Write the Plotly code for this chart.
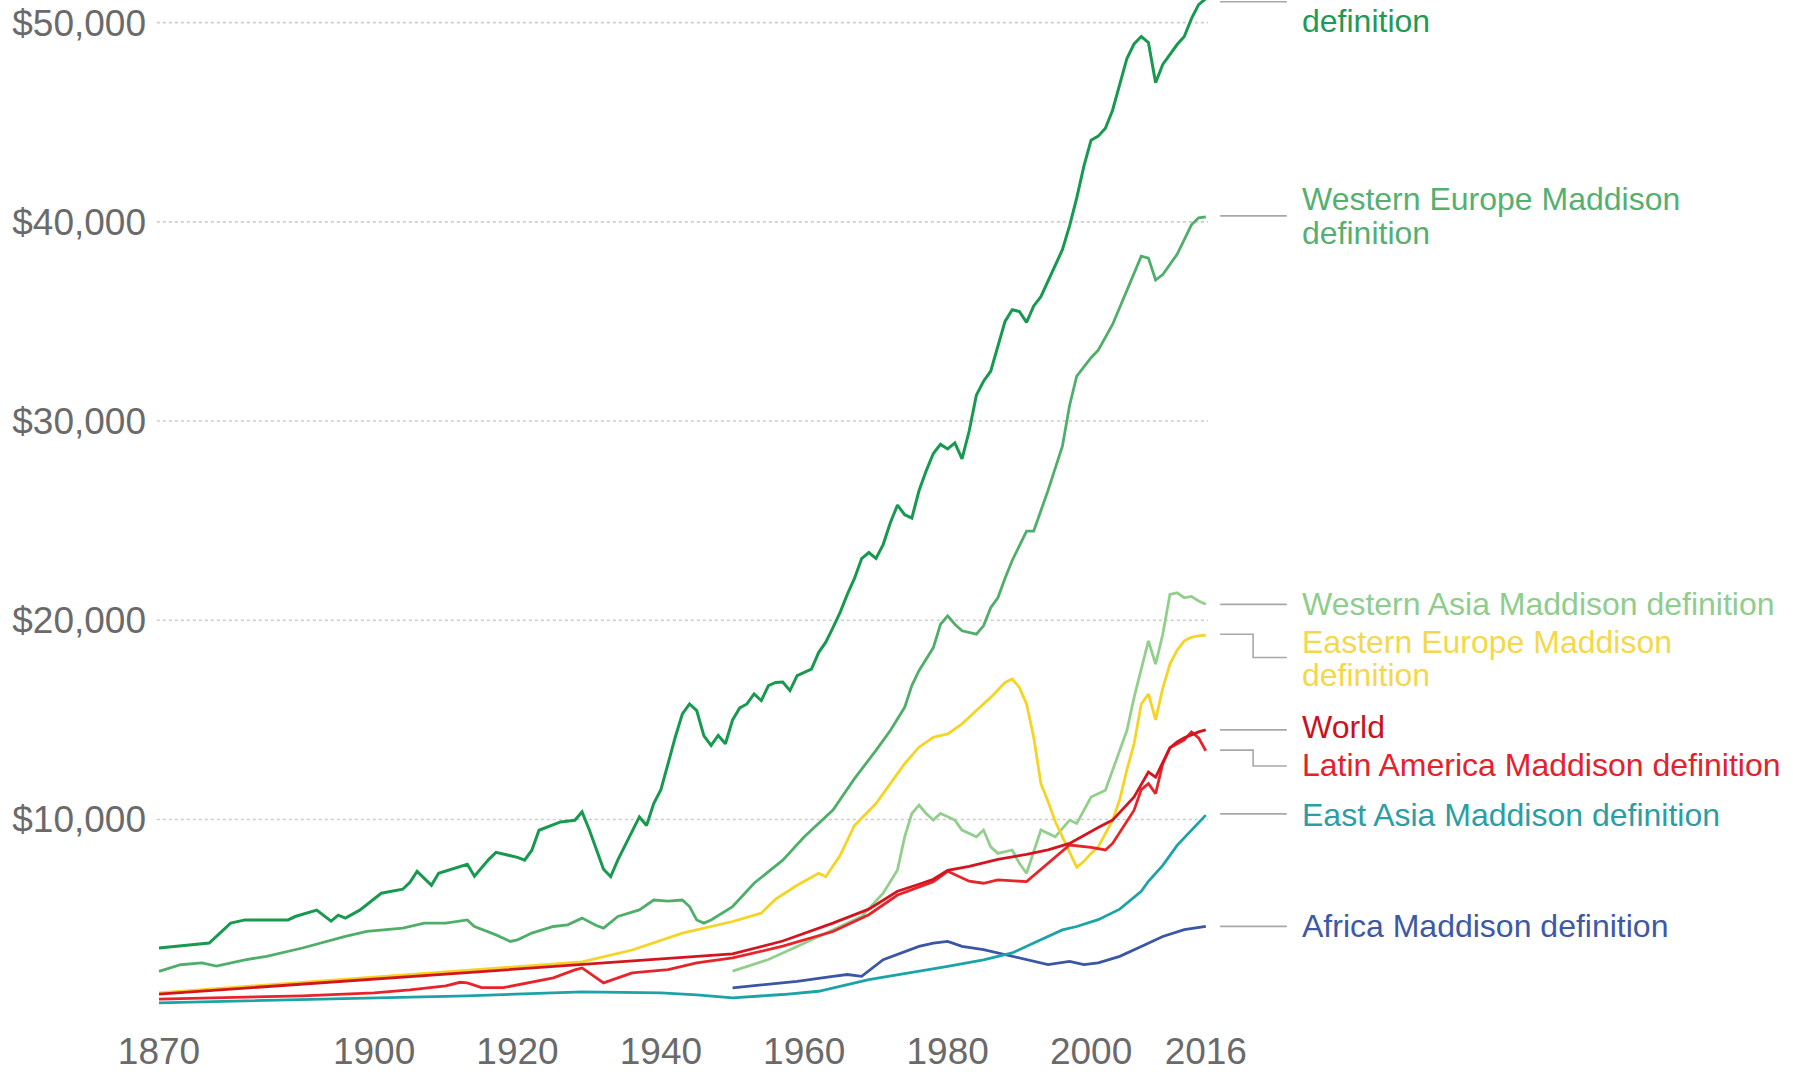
import plotly.graph_objects as go

# ---------------- data ----------------
wo_years = [1870,1877,1880,1882,1888,1889,1892,1894,1895,1896,1898,1901,1904,1905,1906,1908,1909,1913,1914,1916,1917,1920,1921,1922,1923,1926,1928,1929,1930,1931,1932,1933,1934,1937,1938,1939,1940,1941,1942,1943,1944,1945,1946,1947,1948,1949,1950,1951,1952,1953,1954,1955,1956,1957,1958,1959,1960,1961,1962,1963,1964,1965,1966,1967,1968,1969,1970,1971,1972,1973,1974,1975,1976,1977,1978,1979,1980,1981,1982,1983,1984,1985,1986,1987,1988,1989,1990,1991,1992,1993,1994,1995,1996,1997,1998,1999,2000,2001,2002,2003,2004,2005,2006,2007,2008,2009,2010,2011,2012,2013,2014,2015,2016]
wo_vals = [3550,3800,4800,4960,4960,5130,5450,4900,5200,5050,5450,6300,6500,6850,7400,6700,7300,7750,7150,8000,8350,8100,7960,8460,9460,9880,9960,10380,9500,8500,7500,7130,7970,10130,9700,10800,11500,12800,14130,15300,15800,15470,14200,13720,14220,13800,15000,15600,15800,16300,15970,16720,16880,16900,16470,17220,17400,17550,18380,18900,19630,20400,21300,22100,23100,23400,23100,23800,24900,25780,25300,25130,26500,27500,28370,28830,28600,28900,28100,29500,31300,32000,32500,33700,35000,35590,35500,34950,35780,36240,37000,37800,38600,39800,41200,42800,44100,44300,44700,45600,46900,48200,48930,49300,49000,46980,47900,48400,48900,49300,50200,50900,51200]

we_years = [1870,1873,1876,1878,1882,1885,1890,1896,1899,1904,1907,1910,1913,1914,1917,1919,1920,1922,1925,1927,1929,1931,1932,1934,1937,1939,1941,1943,1944,1945,1946,1947,1950,1953,1957,1960,1964,1967,1970,1972,1974,1975,1976,1978,1979,1980,1981,1982,1984,1985,1986,1987,1988,1989,1991,1992,1994,1996,1997,1998,2000,2001,2003,2005,2007,2008,2009,2010,2012,2014,2015,2016]
we_vals = [2380,2710,2800,2640,2960,3130,3550,4130,4380,4550,4800,4800,4960,4630,4210,3880,3960,4300,4630,4710,5050,4680,4550,5130,5460,5960,5900,5960,5630,4960,4800,4960,5630,6800,7960,9130,10470,12050,13470,14470,15630,16720,17470,18630,19800,20220,19800,19470,19300,19720,20630,21130,22110,23000,24480,24480,26520,28740,30780,32260,33180,33560,34850,36520,38280,38180,37080,37350,38370,39850,40200,40250]

wa_years = [1950,1955,1959,1964,1968,1971,1973,1974,1975,1976,1977,1978,1979,1981,1982,1984,1985,1986,1987,1989,1990,1991,1993,1995,1997,1998,2000,2002,2003,2005,2006,2007,2008,2009,2010,2011,2012,2013,2014,2015,2016]
wa_vals = [2390,2970,3630,4470,5130,6300,7470,9130,10300,10720,10300,9970,10300,9970,9470,9130,9470,8630,8300,8470,7800,7300,9470,9130,9970,9800,11130,11470,12470,14470,16130,17600,18970,17800,19300,21300,21380,21130,21200,20970,20800]

ee_years = [1870,1913,1929,1936,1943,1950,1954,1956,1959,1962,1963,1965,1967,1970,1972,1974,1976,1978,1980,1982,1984,1986,1988,1989,1990,1991,1992,1993,1994,1995,1996,1997,1998,1999,2000,2001,2003,2004,2005,2006,2007,2008,2009,2010,2011,2012,2013,2014,2015,2016]
ee_vals = [1300,2450,2850,3450,4300,4880,5300,6000,6700,7300,7130,8200,9700,10800,11800,12800,13630,14130,14300,14800,15470,16130,16880,17050,16630,15800,14130,11800,10900,9900,9130,8400,7600,7900,8300,8630,9970,11000,12500,13800,15800,16300,15000,16600,17800,18500,18970,19150,19220,19250]

wd_years = [1870,1950,1957,1964,1969,1973,1976,1978,1980,1983,1987,1991,1994,1997,2001,2003,2006,2008,2009,2010,2011,2012,2013,2014,2015,2016]
wd_vals = [1235,3250,3900,4800,5500,6400,6750,7000,7450,7650,8000,8250,8480,8800,9600,9970,11130,12380,12130,12900,13600,13900,14100,14250,14400,14500]

la_years = [1870,1880,1890,1900,1905,1910,1912,1913,1915,1918,1920,1923,1925,1928,1929,1930,1932,1934,1936,1941,1945,1950,1957,1964,1969,1973,1978,1980,1983,1985,1987,1991,1994,1997,2000,2002,2003,2006,2007,2008,2009,2010,2011,2013,2014,2015,2016]
la_vals = [985,1060,1150,1300,1450,1650,1830,1800,1560,1560,1700,1900,2050,2450,2550,2300,1800,2050,2300,2470,2800,3050,3640,4380,5220,6210,6880,7400,6900,6800,6970,6880,7800,8720,8600,8470,8800,10470,11500,11800,11300,12800,13600,14000,14400,14100,13450]

ea_years = [1870,1913,1929,1940,1945,1950,1957,1962,1969,1976,1980,1985,1989,1992,1996,1998,2001,2004,2007,2008,2010,2012,2014,2016]
ea_vals = [800,1150,1350,1300,1200,1050,1215,1380,1960,2380,2630,2960,3300,3800,4460,4630,4970,5500,6400,6900,7700,8700,9450,10220]

af_years = [1950,1955,1959,1964,1966,1968,1971,1976,1978,1980,1982,1985,1987,1990,1992,1994,1997,1999,2001,2004,2007,2010,2013,2016]
af_vals = [1550,1720,1880,2130,2220,2130,2960,3630,3800,3880,3630,3470,3300,3050,2880,2720,2880,2720,2800,3130,3630,4130,4470,4640]

x_tickvals = [1870, 1900, 1920, 1940, 1960, 1980, 2000, 2016]
x_ticktext = ["1870", "1900", "1920", "1940", "1960", "1980", "2000", "2016"]
y_tickvals = [10000, 20000, 30000, 40000, 50000]
y_ticktext = ["$10,000", "$20,000", "$30,000", "$40,000", "$50,000"]

# label lines (text, value at which the text line sits); the Western
# Offshoots label is cut off by the top edge, only its last line shows
label_lines = {
    "wo": [("definition", None)],
    "we": [("Western Europe Maddison", 41135), ("definition", 39435)],
    "wa": [("Western Asia Maddison definition", 20835)],
    "ee": [("Eastern Europe Maddison", 18935), ("definition", 17235)],
    "wd": [("World", 14635)],
    "la": [("Latin America Maddison definition", 12735)],
    "ea": [("East Asia Maddison definition", 10235)],
    "af": [("Africa Maddison definition", 4635)],
}
# leader line anchor values (start value, value after the step)
leaders = {
    "wo": (51050, 51050), "we": (40300, 40300), "wa": (20800, 20800),
    "ee": (19300, 18135), "wd": (14500, 14500), "la": (13485, 12685),
    "ea": (10285, 10285), "af": (4635, 4635),
}

# ---------------- styling ----------------
colors = {
    "wo": "#179a4f", "we": "#4fae69", "wa": "#93cf8c", "ee": "#f7d323",
    "wd": "#d2151f", "la": "#e8242b", "ea": "#1ba3a8", "af": "#3a56a5",
}
text_colors = {
    "wo": "#1f9a55", "we": "#55b070", "wa": "#8fcd8c", "ee": "#f4d84c",
    "wd": "#c8121e", "la": "#e2222c", "ea": "#2a9ea3", "af": "#3d59a5",
}
series = [
    ("af", af_years, af_vals), ("ea", ea_years, ea_vals),
    ("wa", wa_years, wa_vals), ("ee", ee_years, ee_vals),
    ("we", we_years, we_vals), ("wo", wo_years, wo_vals),
    ("la", la_years, la_vals), ("wd", wd_years, wd_vals),
]

FONT = "Arial, Liberation Sans, Helvetica, sans-serif"
X_LEFT, X_RIGHT = 1868.745, 2097.9
Y_LOW, Y_HIGH = -365, 51135
LEAD_X0, LEAD_XS, LEAD_X1 = 2018.0, 2022.6, 2027.3
LABEL_X = 2029.2

fig = go.Figure()
for key, xs, ys in series:
    fig.add_trace(go.Scatter(
        x=xs, y=ys, mode="lines",
        line=dict(color=colors[key], width=2.8 if key != "wo" else 3),
        hoverinfo="skip", showlegend=False,
    ))

shapes = []
for v in y_tickvals:
    shapes.append(dict(type="line", xref="x", yref="y", x0=1869.7, x1=2016.3,
                       y0=v, y1=v, layer="below",
                       line=dict(color="#cdcdcd", width=1.6, dash="dot")))
for key, (v0, v1) in leaders.items():
    if v0 == v1:
        shapes.append(dict(type="line", xref="x", yref="y", x0=LEAD_X0, x1=LEAD_X1,
                           y0=v0, y1=v0, line=dict(color="#a8a8a8", width=1.6)))
    else:
        shapes.append(dict(type="path", xref="x", yref="y",
                           path=f"M {LEAD_X0} {v0} L {LEAD_XS} {v0} L {LEAD_XS} {v1} L {LEAD_X1} {v1}",
                           line=dict(color="#a8a8a8", width=1.6)))

annotations = []
plot_h = 1072 - 42
for key, lines in label_lines.items():
    for i, (txt, v) in enumerate(lines):
        if key == "wo":
            py = 21  # pixel from page top
            ann = dict(xref="x", yref="paper", x=LABEL_X, y=1 - py / plot_h)
        else:
            ann = dict(xref="x", yref="y", x=LABEL_X, y=v)
        ann.update(text=txt, showarrow=False, xanchor="left", yanchor="middle",
                   font=dict(family=FONT, size=32, color=text_colors[key]))
        annotations.append(ann)

fig.update_layout(
    width=1793, height=1072,
    margin=dict(l=150, r=0, t=0, b=42, pad=0),
    paper_bgcolor="white", plot_bgcolor="white",
    showlegend=False,
    font=dict(family=FONT, color="#666666"),
    xaxis=dict(range=[X_LEFT, X_RIGHT], tickvals=x_tickvals, ticktext=x_ticktext,
               showgrid=False, zeroline=False, showline=False, ticks="",
               tickfont=dict(size=37, color="#6a6a6a")),
    yaxis=dict(range=[Y_LOW, Y_HIGH], tickvals=y_tickvals, ticktext=y_ticktext,
               showgrid=False, zeroline=False, showline=False, ticks="",
               ticklabelstandoff=3,
               tickfont=dict(size=37, color="#6a6a6a")),
    shapes=shapes, annotations=annotations,
)

fig.write_html(
    "out.html",
    config={"displayModeBar": False},
    post_script="document.body.style.margin='0';document.body.style.overflow='hidden';",
)
